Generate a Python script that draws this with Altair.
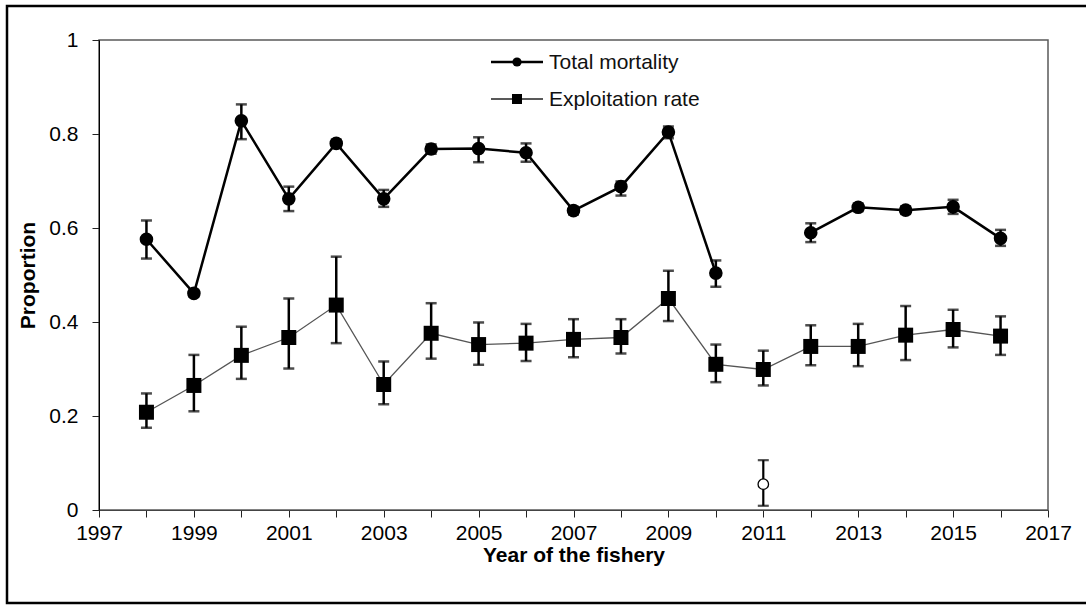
import altair as alt
import pandas as pd

# ---------------- data ----------------
years = list(range(1998, 2017))

# Total mortality (filled circles); 2011 has no estimate
tm = [0.576, 0.461, 0.828, 0.662, 0.780, 0.662, 0.768, 0.769, 0.760, 0.637,
      0.688, 0.804, 0.504, None, 0.590, 0.644, 0.638, 0.645, 0.578]
tm_lo = [0.535, 0.454, 0.789, 0.636, 0.772, 0.645, 0.758, 0.740, 0.741, 0.629,
         0.669, 0.791, 0.475, None, 0.570, 0.636, 0.630, 0.630, 0.562]
tm_hi = [0.616, 0.468, 0.863, 0.688, 0.788, 0.681, 0.778, 0.793, 0.780, 0.645,
         0.699, 0.816, 0.531, None, 0.610, 0.652, 0.646, 0.660, 0.596]

# Exploitation rate (filled squares)
er = [0.208, 0.265, 0.329, 0.367, 0.436, 0.267, 0.376, 0.352, 0.355, 0.363,
      0.367, 0.450, 0.310, 0.299, 0.348, 0.348, 0.372, 0.384, 0.370]
er_lo = [0.175, 0.210, 0.279, 0.301, 0.355, 0.225, 0.322, 0.309, 0.317, 0.325,
         0.333, 0.402, 0.272, 0.265, 0.308, 0.306, 0.319, 0.346, 0.330]
er_hi = [0.248, 0.330, 0.390, 0.450, 0.539, 0.316, 0.440, 0.399, 0.396, 0.406,
         0.406, 0.509, 0.352, 0.339, 0.393, 0.396, 0.434, 0.426, 0.412]

# Separate open-circle estimate for 2011
open_year = [2011]
open_v = [0.055]
open_lo = [0.009]
open_hi = [0.106]

x_ticks = list(range(1997, 2018))
y_ticks = [0, 0.2, 0.4, 0.6, 0.8, 1.0]

legend_labels = ["Total mortality", "Exploitation rate"]

# ---------------- tables ----------------
df_tm = pd.DataFrame({"year": years, "v": tm, "lo": tm_lo, "hi": tm_hi}).dropna()
df_tm["seg"] = (df_tm["year"] > 2011).astype(int)
df_er = pd.DataFrame({"year": years, "v": er, "lo": er_lo, "hi": er_hi})
df_open = pd.DataFrame({"year": open_year, "v": open_v, "lo": open_lo, "hi": open_hi})

FONT = "Liberation Sans"
INK = "#000000"

xscale = alt.Scale(domain=[1997, 2017], nice=False, zero=False)
yscale = alt.Scale(domain=[0, 1], nice=False, zero=True)

xaxis = alt.Axis(
    values=x_ticks, format="d",
    labelExpr="datum.value % 2 == 1 ? datum.label : ''",
    title="Year of the fishery", grid=False,
    domainColor="#444", domainWidth=1.2, tickColor="#222", tickSize=7, tickWidth=1,
    labelFont=FONT, labelFontSize=21, labelColor=INK, labelPadding=5,
    labelFlush=False, labelOverlap=False,
    titleFont=FONT, titleFontSize=21, titleFontWeight="bold", titleColor=INK,
    titlePadding=1,
)
yaxis = alt.Axis(
    values=y_ticks, format=".1~f", title="Proportion", grid=False,
    domainColor="#000", domainWidth=1, tickColor="#222", tickSize=7, tickWidth=1,
    labelFont=FONT, labelFontSize=21, labelColor=INK, labelPadding=14,
    labelFlush=False, labelOverlap=False,
    titleFont=FONT, titleFontSize=21, titleFontWeight="bold", titleColor=INK,
    titlePadding=10,
)


def X():
    return alt.X("year:Q", scale=xscale, axis=xaxis)


def Y(field):
    return alt.Y(f"{field}:Q", scale=yscale, axis=yaxis)


def errorbars(df, width=2.5):
    base = alt.Chart(df)
    rule = base.mark_rule(color=INK, strokeWidth=width).encode(x=X(), y=Y("lo"), y2="hi")
    cap_lo = base.mark_tick(color=INK, orient="horizontal", size=11, thickness=width).encode(x=X(), y=Y("lo"))
    cap_hi = base.mark_tick(color=INK, orient="horizontal", size=11, thickness=width).encode(x=X(), y=Y("hi"))
    return [rule, cap_lo, cap_hi]


tm_line = alt.Chart(df_tm).mark_line(color=INK, strokeWidth=2.5).encode(
    x=X(), y=Y("v"), detail="seg:N")
er_line = alt.Chart(df_er).mark_line(color="#555555", strokeWidth=1.3).encode(
    x=X(), y=Y("v"))

tm_pts = alt.Chart(df_tm).mark_point(shape="circle", filled=True, color=INK, size=185, opacity=1).encode(
    x=X(), y=Y("v"))
er_pts = alt.Chart(df_er).mark_point(shape="square", filled=True, color=INK, size=225, opacity=1).encode(
    x=X(), y=Y("v"))
open_pts = alt.Chart(df_open).mark_point(shape="circle", filled=True, fill="white", stroke=INK,
                                         strokeWidth=1.3, size=110, opacity=1).encode(x=X(), y=Y("v"))

# ---------------- manual legend ----------------
one = alt.Data(values=[{"k": 0}])
leg = []
for i, (lab, shape, lw, sz) in enumerate(zip(legend_labels, ["circle", "square"], [2.5, 1.3], [85, 100])):
    yy = 22 + i * 37
    leg.append(alt.Chart(one).mark_rule(color=INK if i == 0 else "#222", strokeWidth=lw).encode(
        x=alt.value(392), x2=alt.value(444), y=alt.value(yy)))
    leg.append(alt.Chart(one).mark_point(shape=shape, filled=True, color=INK, size=sz, opacity=1).encode(
        x=alt.value(418), y=alt.value(yy)))
    leg.append(alt.Chart(one).mark_text(align="left", baseline="middle", font=FONT, fontSize=21,
                                        color="#111").encode(
        x=alt.value(450), y=alt.value(yy + 1), text=alt.value(lab)))

# outer frame of the figure
frame = alt.Chart(one).mark_rect(fill=None, stroke=INK, strokeWidth=2.5, clip=False).encode(
    x=alt.value(-92), x2=alt.value(1000), y=alt.value(-34), y2=alt.value(563))

layers = [tm_line, er_line] + errorbars(df_tm) + errorbars(df_er) + errorbars(df_open, 2.2) + \
    [tm_pts, er_pts, open_pts] + leg + [frame]

chart = alt.layer(*layers).properties(
    width=949, height=470,
    padding={"left": 99, "top": 40, "right": 38, "bottom": 95},
    autosize=alt.AutoSizeParams(type="none"),
    background="white",
).configure_view(stroke="#5a5a5a", strokeWidth=1.5)

chart.save("out.html", embed_options={"renderer": "svg", "actions": False})
